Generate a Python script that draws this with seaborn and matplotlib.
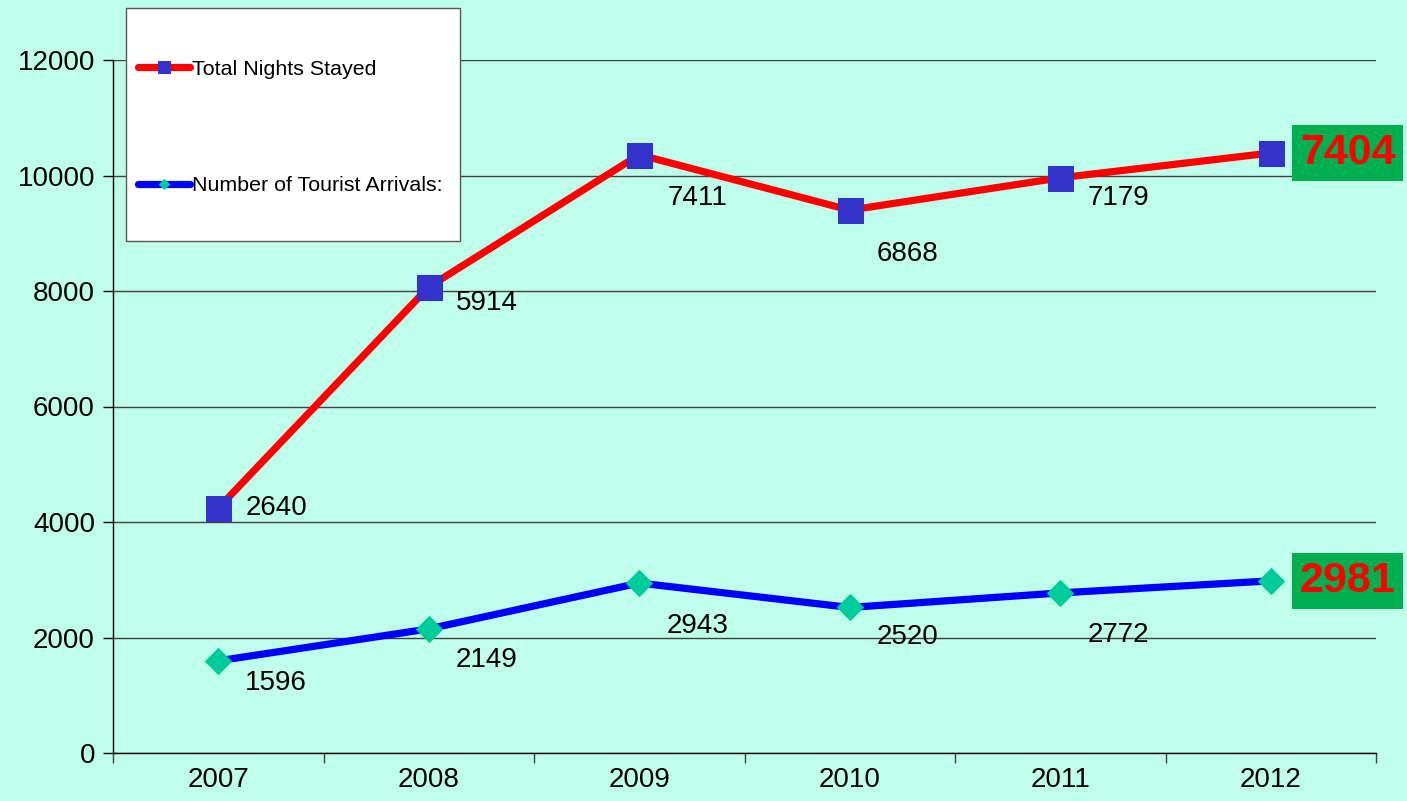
import copy
import seaborn as sns
import matplotlib.pyplot as plt
from matplotlib.patches import Rectangle
from matplotlib.ticker import FixedLocator

years = ['2007', '2008', '2009', '2010', '2011', '2012']
nights_plotted = [4240, 8070, 10360, 9400, 9960, 10390]
nights_labels = ['2640', '5914', '7411', '6868', '7179']
arrivals = [1596, 2149, 2943, 2520, 2772, 2981]
arrivals_labels = ['1596', '2149', '2943', '2520', '2772']
nights_last = '7404'
arrivals_last = '2981'

# label offsets below/right of each point (pixels)
nights_dy = [0, 16, 43, 44, 20]
arrivals_dy = [22, 31, 43, 30, 42]

bg = '#C0FEEC'
sns.set_style('white')
plt.rcParams['font.family'] = ['Liberation Sans', 'DejaVu Sans']
plt.rcParams['text.color'] = 'black'
plt.rcParams['xtick.color'] = 'black'
plt.rcParams['ytick.color'] = 'black'

fig = plt.figure(figsize=(14.07, 8.01), dpi=100, facecolor=bg)
ax = fig.add_axes([113 / 1407, 48 / 801, 1263 / 1407, 693 / 801])
ax.set_facecolor(bg)

sns.lineplot(x=years, y=nights_plotted, ax=ax, color='#FF0000', linewidth=5.2,
             marker='s', markerfacecolor='#3333CC',
             markeredgecolor='#3333CC', label='Total Nights Stayed', legend=False)
sns.lineplot(x=years, y=arrivals, ax=ax, color='#0000FF', linewidth=5.2,
             marker='D', markerfacecolor='#00CC99',
             markeredgecolor='#00CC99', label='Number of Tourist Arrivals:', legend=False)
ax.lines[0].set_markersize(18)
ax.lines[1].set_markersize(13.3)

ax.set_xlim(-0.5, 5.5)
ax.set_ylim(0, 12000)
ax.set_yticks(range(0, 12001, 2000))
ax.tick_params(axis='y', labelsize=20, length=7, width=1, direction='out', left=True, pad=6)
ax.yaxis.grid(True, color='#404040', linewidth=1)
ax.set_axisbelow(True)

ax.xaxis.set_major_locator(FixedLocator([i - 0.5 for i in range(7)]))
ax.xaxis.set_minor_locator(FixedLocator(range(6)))
ax.set_xticklabels([], minor=False)
ax.set_xticklabels(years, minor=True)
ax.tick_params(axis='x', which='major', length=7, width=1, direction='out', bottom=True, color='#404040')
ax.tick_params(axis='x', which='minor', length=0, labelsize=20, pad=10)

for s in ['top', 'right']:
    ax.spines[s].set_visible(False)
for s in ['left', 'bottom']:
    ax.spines[s].set_color('black')
    ax.spines[s].set_linewidth(1)

px = 0.72
for i, (lab, dy) in enumerate(zip(nights_labels, nights_dy)):
    ax.annotate(lab, (i, nights_plotted[i]), xytext=(58 * px, -dy * px),
                textcoords='offset points', ha='center', va='center', fontsize=20)
for i, (lab, dy) in enumerate(zip(arrivals_labels, arrivals_dy)):
    ax.annotate(lab, (i, arrivals[i]), xytext=(58 * px, -dy * px),
                textcoords='offset points', ha='center', va='center', fontsize=20)

for val, lab in [(nights_plotted[-1], nights_last), (arrivals[-1], arrivals_last)]:
    ax.annotate(lab, (5, val), xytext=(77 * px, 0), textcoords='offset points',
                ha='center', va='center', fontsize=31, fontweight='bold', color='#FF0000',
                annotation_clip=False,
                bbox=dict(boxstyle='square,pad=0.18', facecolor='#00B050', edgecolor='none'))

# legend box
fig.patches.append(Rectangle((126 / 1407, 1 - 241 / 801), 334 / 1407, 233 / 801,
                             transform=fig.transFigure, facecolor='white',
                             edgecolor='#555555', linewidth=1, zorder=3))
h, l = ax.get_legend_handles_labels()
h = [copy.copy(x) for x in h]
h[0].set_markersize(9)
h[1].set_markersize(5.5)
fig.legend(h, l, loc='upper left', bbox_to_anchor=(127 / 1407, 1 - 49 / 801),
           frameon=False, fontsize=15.4, handlelength=2.45, handletextpad=0.1,
           labelspacing=4.55, borderpad=0)

fig.savefig('out.png', dpi=100, facecolor=bg)
